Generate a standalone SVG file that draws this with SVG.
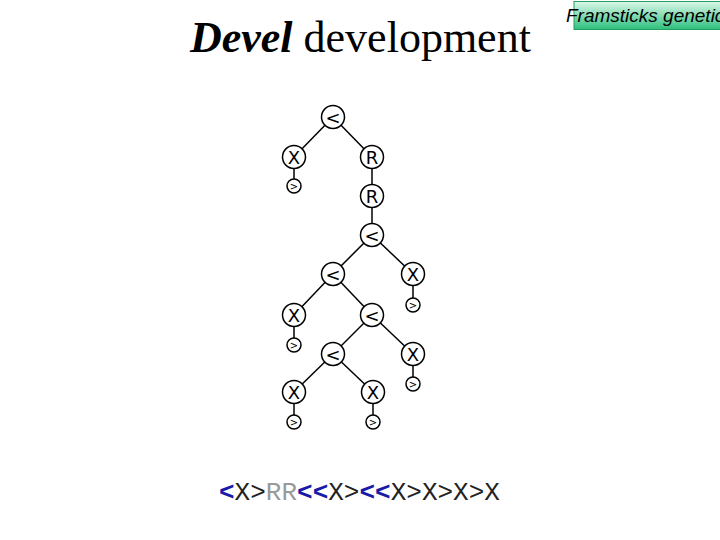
<svg xmlns="http://www.w3.org/2000/svg" width="720" height="540" viewBox="0 0 720 540">
<defs>
<linearGradient id="g" x1="0" y1="0" x2="0" y2="1">
<stop offset="0" stop-color="#dcf8ea"/>
<stop offset="1" stop-color="#2ebf7e"/>
</linearGradient>
</defs>
<style>
.n{fill:#fff;stroke:#000;stroke-width:1.5}
.t{font-family:"DejaVu Sans",sans-serif;font-size:18px;fill:#000;text-anchor:middle;dominant-baseline:central}
.s{font-family:"DejaVu Sans",sans-serif;font-size:10px;fill:#000;text-anchor:middle;dominant-baseline:central}
#edges line{stroke:#000;stroke-width:1.5}
.b{fill:#1a1aa8;font-weight:bold}
.k{fill:#222}
.r{fill:#999}
</style>
<rect width="720" height="540" fill="#fff"/>
<text x="190" y="52" font-family="'Liberation Serif',serif" font-size="44"><tspan font-weight="bold" font-style="italic">Devel</tspan> development</text>
<g id="badge">
<rect x="574" y="1.5" width="150" height="28" fill="url(#g)" stroke="#22a060" stroke-width="1"/>
<text x="566" y="22" font-family="'Liberation Sans',sans-serif" font-style="italic" font-size="19" fill="#000">Framsticks genetic</text>
</g>
<g id="edges">
<line x1="333" y1="117" x2="294" y2="157"/>
<line x1="333" y1="117" x2="372" y2="157"/>
<line x1="294" y1="157" x2="294" y2="186"/>
<line x1="372" y1="157" x2="372" y2="196"/>
<line x1="372" y1="196" x2="372" y2="235"/>
<line x1="372" y1="235" x2="333" y2="274"/>
<line x1="372" y1="235" x2="413" y2="274"/>
<line x1="413" y1="274" x2="413" y2="305"/>
<line x1="333" y1="274" x2="294" y2="315"/>
<line x1="333" y1="274" x2="372" y2="315"/>
<line x1="294" y1="315" x2="294" y2="345"/>
<line x1="372" y1="315" x2="333" y2="354"/>
<line x1="372" y1="315" x2="413" y2="354"/>
<line x1="413" y1="354" x2="413" y2="384"/>
<line x1="333" y1="354" x2="294" y2="392"/>
<line x1="333" y1="354" x2="373" y2="392"/>
<line x1="294" y1="392" x2="294" y2="422"/>
<line x1="373" y1="392" x2="373" y2="422"/>
</g>
<g id="n1"><circle class="n" cx="333" cy="117" r="11.5"/><text class="t" x="333" y="117">&lt;</text></g>
<g id="n2"><circle class="n" cx="294" cy="157" r="11.5"/><text class="t" x="294" y="157">X</text></g>
<g id="n3"><circle class="n" cx="372" cy="157" r="11.5"/><text class="t" x="372" y="157">R</text></g>
<g id="n4"><circle class="n" cx="294" cy="186" r="7"/><text class="s" x="294" y="186">&gt;</text></g>
<g id="n5"><circle class="n" cx="372" cy="196" r="11.5"/><text class="t" x="372" y="196">R</text></g>
<g id="n6"><circle class="n" cx="372" cy="235" r="11.5"/><text class="t" x="372" y="235">&lt;</text></g>
<g id="n7"><circle class="n" cx="333" cy="274" r="11.5"/><text class="t" x="333" y="274">&lt;</text></g>
<g id="n8"><circle class="n" cx="413" cy="274" r="11.5"/><text class="t" x="413" y="274">X</text></g>
<g id="n9"><circle class="n" cx="413" cy="305" r="7"/><text class="s" x="413" y="305">&gt;</text></g>
<g id="n10"><circle class="n" cx="294" cy="315" r="11.5"/><text class="t" x="294" y="315">X</text></g>
<g id="n11"><circle class="n" cx="372" cy="315" r="11.5"/><text class="t" x="372" y="315">&lt;</text></g>
<g id="n12"><circle class="n" cx="294" cy="345" r="7"/><text class="s" x="294" y="345">&gt;</text></g>
<g id="n13"><circle class="n" cx="333" cy="354" r="11.5"/><text class="t" x="333" y="354">&lt;</text></g>
<g id="n14"><circle class="n" cx="413" cy="354" r="11.5"/><text class="t" x="413" y="354">X</text></g>
<g id="n15"><circle class="n" cx="413" cy="384" r="7"/><text class="s" x="413" y="384">&gt;</text></g>
<g id="n16"><circle class="n" cx="294" cy="392" r="11.5"/><text class="t" x="294" y="392">X</text></g>
<g id="n17"><circle class="n" cx="373" cy="392" r="11.5"/><text class="t" x="373" y="392">X</text></g>
<g id="n18"><circle class="n" cx="294" cy="422" r="7"/><text class="s" x="294" y="422">&gt;</text></g>
<g id="n19"><circle class="n" cx="373" cy="422" r="7"/><text class="s" x="373" y="422">&gt;</text></g>
<text x="219" y="500" font-family="'Liberation Mono',monospace" font-size="26"><tspan class="b">&lt;</tspan><tspan class="k">X&gt;</tspan><tspan class="r">RR</tspan><tspan class="b">&lt;&lt;</tspan><tspan class="k">X&gt;</tspan><tspan class="b">&lt;&lt;</tspan><tspan class="k">X&gt;X&gt;X&gt;X</tspan></text>
</svg>
